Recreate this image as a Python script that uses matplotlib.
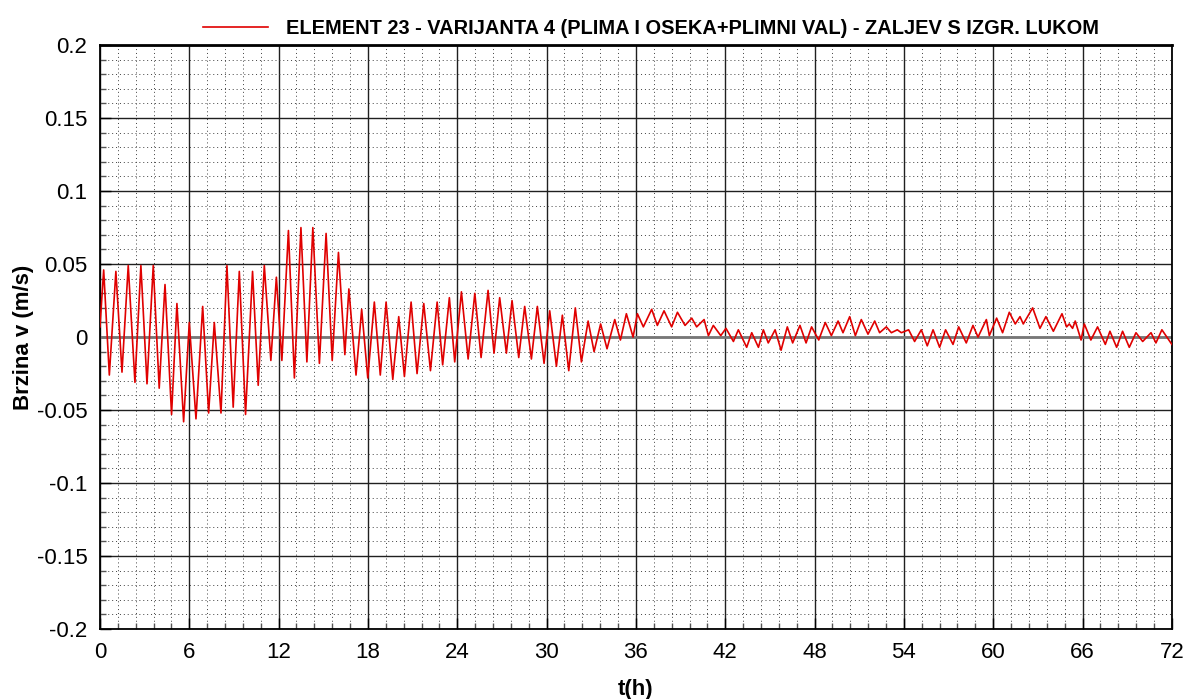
import numpy as np
import matplotlib
matplotlib.use("Agg")
import matplotlib.pyplot as plt
from matplotlib.ticker import MultipleLocator

plt.rcParams['font.family'] = ['Liberation Sans', 'DejaVu Sans']

# vremena (h) i brzine (m/s) - ekstremi ocitani sa slike
t = [0.0, 0.25, 0.63, 1.07, 1.48, 1.9, 2.35, 2.75, 3.16, 3.58, 3.98, 4.37, 4.81,
     5.17, 5.62, 6.0, 6.45, 6.9, 7.3, 7.68, 8.13, 8.53, 8.95, 9.36, 9.78, 10.25,
     10.63, 11.04, 11.48, 11.85, 12.22, 12.66, 13.06, 13.5, 13.9, 14.3, 14.74,
     15.19, 15.6, 16.02, 16.45, 16.72, 17.2, 17.58, 17.99, 18.43, 18.83, 19.22,
     19.67, 20.07, 20.45, 20.9, 21.3, 21.75, 22.2, 22.65, 23.02, 23.47, 23.83,
     24.28, 24.73, 25.18, 25.6, 26.07, 26.47, 26.85, 27.3, 27.68, 28.13, 28.53,
     28.98, 29.38, 29.83, 30.21, 30.66, 31.06, 31.49, 31.93, 32.34, 32.79, 33.19,
     33.63, 34.06, 34.58, 34.96, 35.36, 35.81, 36.1, 36.5, 37.06, 37.44, 37.89,
     38.4, 38.79, 39.3, 39.75, 40.08, 40.58, 40.87, 41.2, 41.7, 42.05, 42.55,
     42.88, 43.44, 43.78, 44.23, 44.56, 44.89, 45.35, 45.75, 46.17, 46.53, 47.02,
     47.43, 47.8, 48.28, 48.72, 49.13, 49.58, 49.91, 50.36, 50.74, 51.14, 51.59,
     52.04, 52.37, 52.82, 53.16, 53.56, 53.83, 54.32, 54.72, 55.17, 55.57, 55.96,
     56.4, 56.8, 57.3, 57.68, 58.19, 58.64, 58.98, 59.54, 59.74, 60.23, 60.63,
     61.08, 61.48, 61.8, 62.02, 62.65, 63.14, 63.54, 64.04, 64.62, 64.93, 65.11,
     65.33, 65.51, 65.9, 66.12, 66.56, 67.01, 67.53, 67.84, 68.29, 68.69, 69.14,
     69.59, 70.04, 70.6, 70.93, 71.33, 72.0]
v = [0.007, 0.046, -0.026, 0.045, -0.024, 0.049, -0.031, 0.049, -0.032, 0.049,
     -0.035, 0.036, -0.053, 0.023, -0.058, 0.010, -0.056, 0.021, -0.052, 0.010,
     -0.052, 0.049, -0.048, 0.045, -0.053, 0.045, -0.033, 0.049, -0.016, 0.041,
     -0.016, 0.073, -0.028, 0.075, -0.017, 0.075, -0.018, 0.071, -0.016, 0.058,
     -0.012, 0.033, -0.026, 0.019, -0.028, 0.024, -0.026, 0.024, -0.029, 0.014,
     -0.027, 0.024, -0.025, 0.023, -0.023, 0.024, -0.019, 0.027, -0.017, 0.031,
     -0.015, 0.030, -0.014, 0.032, -0.011, 0.027, -0.011, 0.025, -0.014, 0.021,
     -0.015, 0.021, -0.018, 0.018, -0.020, 0.015, -0.023, 0.020, -0.017, 0.011,
     -0.010, 0.009, -0.008, 0.012, -0.002, 0.016, 0.0, 0.016, 0.007, 0.019,
     0.008, 0.018, 0.007, 0.017, 0.008, 0.013, 0.007, 0.012, 0.001, 0.008,
     0.001, 0.006, -0.003, 0.005, -0.007, 0.003, -0.007, 0.005, -0.004, 0.005,
     -0.009, 0.007, -0.004, 0.008, -0.004, 0.007, -0.002, 0.010, 0.001, 0.011,
     0.003, 0.014, 0.001, 0.012, 0.002, 0.011, 0.003, 0.007, 0.003, 0.005,
     0.003, 0.005, -0.003, 0.005, -0.006, 0.005, -0.007, 0.005, -0.005, 0.007,
     -0.004, 0.008, 0.0, 0.012, 0.001, 0.013, 0.003, 0.017, 0.009, 0.014,
     0.009, 0.020, 0.006, 0.014, 0.004, 0.016, 0.007, 0.009, 0.006, 0.011,
     -0.002, 0.009, -0.002, 0.007, -0.005, 0.004, -0.007, 0.004, -0.007, 0.003,
     -0.003, 0.003, -0.004, 0.005, -0.005]

naslov = "ELEMENT 23 - VARIJANTA 4 (PLIMA I OSEKA+PLIMNI VAL) - ZALJEV S IZGR. LUKOM"
x_ticks = [0, 6, 12, 18, 24, 30, 36, 42, 48, 54, 60, 66, 72]
y_ticks = [-0.2, -0.15, -0.1, -0.05, 0, 0.05, 0.1, 0.15, 0.2]
y_labels = ["-0.2", "-0.15", "-0.1", "-0.05", "0", "0.05", "0.1", "0.15", "0.2"]

fig = plt.figure(figsize=(11.97, 6.99), dpi=100)
ax = fig.add_axes([0.0835, 0.100, 0.8955, 0.8355])

ax.plot(t, v, color='#e00000', lw=1.2, label=naslov, zorder=3,
        solid_joinstyle='round')

ax.set_xlim(0, 72)
ax.set_ylim(-0.2, 0.2)
ax.set_xticks(x_ticks)
ax.set_yticks(y_ticks)
ax.set_yticklabels(y_labels)
ax.xaxis.set_minor_locator(MultipleLocator(1.2))
ax.yaxis.set_minor_locator(MultipleLocator(0.01))

ax.grid(which='major', color='#202020', lw=1.0, ls='-')
ax.grid(which='minor', color='#404040', lw=0.7, ls=(0, (1, 3)))
ax.axhline(0, color='#777777', lw=2.0, zorder=2)
ax.set_axisbelow(True)

ax.tick_params(which='both', direction='in', top=False, right=False,
               labelsize=16, pad=9)
ax.tick_params(which='major', length=8, width=1)
ax.tick_params(which='minor', length=4, width=1, color='#555555')
for s in ax.spines.values():
    s.set_linewidth(1.3)
ax.spines['top'].set_linewidth(2.0)

ax.set_xlabel("t(h)", fontsize=16, fontweight='bold', labelpad=12)
ax.set_ylabel("Brzina v (m/s)", fontsize=16, fontweight='bold', labelpad=2)

leg = ax.legend(loc='lower left', bbox_to_anchor=(0.085, 0.992), frameon=False,
                handlelength=3.25, handletextpad=0.9, borderaxespad=0.2,
                prop={'size': 14.4, 'weight': 'bold'})

fig.savefig("out.png", dpi=100)
